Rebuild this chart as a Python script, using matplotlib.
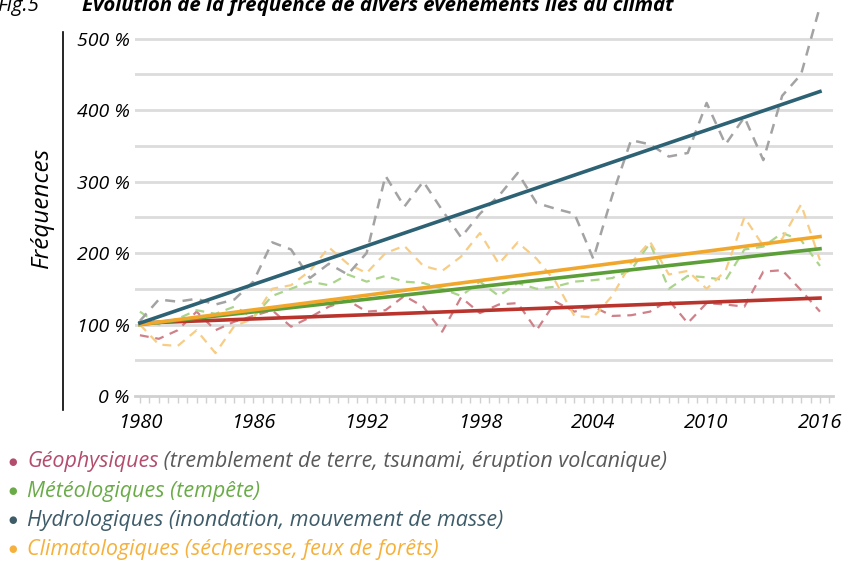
import matplotlib.pyplot as plt
import numpy as np
from matplotlib.lines import Line2D

# years and values (index 1980 = 100 %)
years = np.arange(1980, 2017)

hydro = [105, 135, 132, 136, 128, 135, 160, 215, 205, 165, 185, 170, 200,
         308, 265, 300, 260, 222, 255, 280, 312, 270, 262, 255, 192, 280,
         358, 352, 335, 340, 410, 352, 390, 330, 420, 450, 545]
clim = [100, 72, 70, 92, 60, 98, 108, 150, 155, 175, 208, 185, 172,
        200, 210, 182, 175, 195, 228, 185, 215, 192, 160, 112, 110, 140,
        186, 216, 170, 175, 150, 175, 250, 210, 220, 268, 190]
meteo = [118, 100, 108, 120, 115, 125, 110, 140, 150, 160, 155, 170, 160,
         168, 160, 158, 150, 140, 160, 140, 158, 150, 153, 160, 162, 165,
         176, 214, 150, 168, 166, 162, 205, 209, 228, 218, 182]
geo = [85, 80, 92, 118, 92, 104, 112, 120, 97, 110, 125, 134, 118,
       120, 140, 125, 90, 138, 116, 128, 130, 92, 132, 118, 125, 112,
       113, 118, 134, 102, 130, 128, 125, 174, 176, 148, 118]

# linear trends: value in 1980 and in 2016
trend_years = [1980, 2016]
hydro_trend = [102, 426]
clim_trend = [100, 223]
meteo_trend = [100, 206]
geo_trend = [102, 137]

y_ticks = [0, 100, 200, 300, 400, 500]
x_ticks = [1980, 1986, 1992, 1998, 2004, 2010, 2016]

legend_items = [
    ('Géophysiques', ' (tremblement de terre, tsunami, éruption volcanique)', '#b34d6d', '#5a5a5a'),
    ('Météologiques (tempête)', '', '#6aab48', None),
    ('Hydrologiques (inondation, mouvement de masse)', '', '#3e5b68', None),
    ('Climatologiques (sécheresse, feux de forêts)', '', '#f5b13c', None),
]

plt.rcParams['font.family'] = ['Open Sans', 'DejaVu Sans']

W, H = 846, 561
fig = plt.figure(figsize=(W / 100, H / 100), dpi=100)
ax = fig.add_axes([135 / W, 1 - 396 / H, (833 - 135) / W, 396 / H])

ax.set_xlim(1979.74, 2016.69)
ax.set_ylim(0, 554)

for g in range(50, 550, 50):
    ax.axhline(g, color='#dcdcdc', lw=2, zorder=0)

# dashed series
ax.plot(years, geo, color='#cf8088', lw=1.6, ls=(0, (4, 3)), zorder=2)
ax.plot(years, meteo, color='#a9d48a', lw=1.6, ls=(0, (4, 3)), zorder=2)
ax.plot(years, clim, color='#f7cd86', lw=1.6, ls=(0, (4, 3)), zorder=2)
ax.plot(years, hydro, color='#a3a3a3', lw=1.8, ls=(0, (4, 3)), zorder=2)

# trend lines
ax.plot(trend_years, geo_trend, color='#b8342c', lw=2.6, zorder=3)
ax.plot(trend_years, meteo_trend, color='#5c9e38', lw=2.6, zorder=3)
ax.plot(trend_years, clim_trend, color='#f0a72c', lw=2.6, zorder=4)
ax.plot(trend_years, hydro_trend, color='#2d6274', lw=2.6, zorder=4)

for s in ['top', 'right', 'left']:
    ax.spines[s].set_visible(False)
ax.spines['bottom'].set_color('#d0d0d0')
ax.spines['bottom'].set_linewidth(2)

ax.set_yticks(y_ticks)
ax.set_yticklabels([f'{v} %' for v in y_ticks], fontsize=14, style='italic')
ax.tick_params(axis='y', length=0, pad=4)
ax.set_xticks(x_ticks)
ax.set_xticklabels([str(v) for v in x_ticks], fontsize=14.5, style='italic')
ax.set_xticks(np.arange(1980, 2016.6, 0.5), minor=True)
ax.tick_params(axis='x', which='both', length=5, color='#d0d0d0', width=1, pad=7)

# vertical black line and y label
fig.add_artist(Line2D([63 / W, 63 / W], [1 - 32 / H, 1 - 410 / H], color='black', lw=1.2))
fig.text(42 / W, 1 - 207 / H, 'Fréquences', rotation=90, ha='center', va='center',
         fontsize=17.5, style='italic')

# title (cut at top)
fig.text(-3 / W, 1 - 11 / H, 'Fig.5', fontsize=14.7, style='italic', va='baseline')
fig.text(82 / W, 1 - 11 / H, 'Évolution de la fréquence de divers événements liés au climat',
         fontsize=14.7, style='italic', weight='bold', va='baseline')

# legend below
for i, (label, extra, col, extra_col) in enumerate(legend_items):
    yc = 1 - (462 + i * 29.3) / H
    fig.text(13 / W, yc, '●', color=col, fontsize=7, va='center', ha='center')
    t = fig.text(27 / W, yc, label, color=col, fontsize=15.5, style='italic', va='center')
    if extra:
        ax.annotate(extra, xy=(1, 0.5), xycoords=t, va='center', ha='left',
                    color=extra_col, fontsize=15.5, style='italic', annotation_clip=False)

fig.savefig('out.png', dpi=100)
